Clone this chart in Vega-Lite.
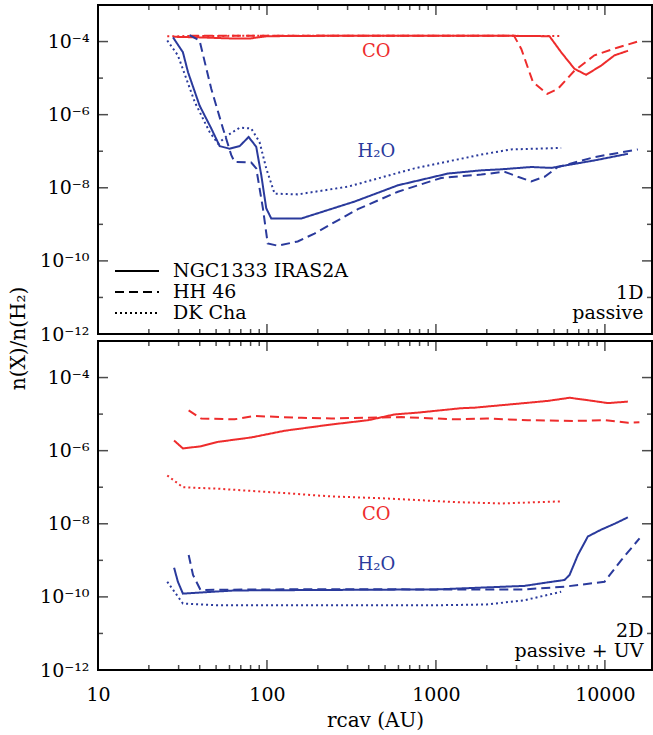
{
  "$schema": "https://vega.github.io/schema/vega-lite/v6.json",
  "autosize": {"type": "pad"},
  "padding": {"left": 7, "top": 4, "right": 2, "bottom": 0},
  "background": "white",
  "config": {
    "view": {"stroke": "black", "strokeWidth": 2},
    "axis": {
      "domain": false,
      "grid": false,
      "tickSize": 0,
      "labelFont": "DejaVu Serif",
      "labelFontSize": 19,
      "labelColor": "black",
      "labelOverlap": false,
      "labelFlush": false,
      "labelBound": false,
      "titleFont": "DejaVu Serif",
      "titleFontSize": 20,
      "titleFontWeight": "normal",
      "titleColor": "black"
    },
    "text": {"font": "DejaVu Serif"}
  },
  "datasets": {
    "xticks": [
      {"v": 10, "kind": "major"}, {"v": 20, "kind": "minor"}, {"v": 30, "kind": "minor"}, {"v": 40, "kind": "minor"},
      {"v": 50, "kind": "minor"}, {"v": 60, "kind": "minor"}, {"v": 70, "kind": "minor"}, {"v": 80, "kind": "minor"},
      {"v": 90, "kind": "minor"}, {"v": 100, "kind": "major"}, {"v": 200, "kind": "minor"}, {"v": 300, "kind": "minor"},
      {"v": 400, "kind": "minor"}, {"v": 500, "kind": "minor"}, {"v": 600, "kind": "minor"}, {"v": 700, "kind": "minor"},
      {"v": 800, "kind": "minor"}, {"v": 900, "kind": "minor"}, {"v": 1000, "kind": "major"}, {"v": 2000, "kind": "minor"},
      {"v": 3000, "kind": "minor"}, {"v": 4000, "kind": "minor"}, {"v": 5000, "kind": "minor"}, {"v": 6000, "kind": "minor"},
      {"v": 7000, "kind": "minor"}, {"v": 8000, "kind": "minor"}, {"v": 9000, "kind": "minor"}, {"v": 10000, "kind": "major"}
    ],
    "yticks": [
      {"v": 1e-12, "kind": "major"}, {"v": 1e-11, "kind": "minor"}, {"v": 1e-10, "kind": "major"},
      {"v": 1e-9, "kind": "minor"}, {"v": 1e-8, "kind": "major"}, {"v": 1e-7, "kind": "minor"},
      {"v": 1e-6, "kind": "major"}, {"v": 1e-5, "kind": "minor"}, {"v": 1e-4, "kind": "major"}
    ],
    "profiles": [
      {"panel": "1D", "species": "CO", "source": "NGC1333 IRAS2A", "r": 28, "ratio": 1.35e-4},
      {"panel": "1D", "species": "CO", "source": "NGC1333 IRAS2A", "r": 40, "ratio": 1.3e-4},
      {"panel": "1D", "species": "CO", "source": "NGC1333 IRAS2A", "r": 60, "ratio": 1.22e-4},
      {"panel": "1D", "species": "CO", "source": "NGC1333 IRAS2A", "r": 80, "ratio": 1.22e-4},
      {"panel": "1D", "species": "CO", "source": "NGC1333 IRAS2A", "r": 100, "ratio": 1.4e-4},
      {"panel": "1D", "species": "CO", "source": "NGC1333 IRAS2A", "r": 300, "ratio": 1.45e-4},
      {"panel": "1D", "species": "CO", "source": "NGC1333 IRAS2A", "r": 1000, "ratio": 1.45e-4},
      {"panel": "1D", "species": "CO", "source": "NGC1333 IRAS2A", "r": 3000, "ratio": 1.43e-4},
      {"panel": "1D", "species": "CO", "source": "NGC1333 IRAS2A", "r": 4700, "ratio": 1.4e-4},
      {"panel": "1D", "species": "CO", "source": "NGC1333 IRAS2A", "r": 5510, "ratio": 5.1e-5},
      {"panel": "1D", "species": "CO", "source": "NGC1333 IRAS2A", "r": 6600, "ratio": 1.8e-5},
      {"panel": "1D", "species": "CO", "source": "NGC1333 IRAS2A", "r": 7740, "ratio": 1.23e-5},
      {"panel": "1D", "species": "CO", "source": "NGC1333 IRAS2A", "r": 9500, "ratio": 2.2e-5},
      {"panel": "1D", "species": "CO", "source": "NGC1333 IRAS2A", "r": 11400, "ratio": 4.2e-5},
      {"panel": "1D", "species": "CO", "source": "NGC1333 IRAS2A", "r": 13700, "ratio": 5.6e-5},

      {"panel": "1D", "species": "CO", "source": "HH 46", "r": 35, "ratio": 1.45e-4},
      {"panel": "1D", "species": "CO", "source": "HH 46", "r": 100, "ratio": 1.45e-4},
      {"panel": "1D", "species": "CO", "source": "HH 46", "r": 1000, "ratio": 1.45e-4},
      {"panel": "1D", "species": "CO", "source": "HH 46", "r": 2900, "ratio": 1.43e-4},
      {"panel": "1D", "species": "CO", "source": "HH 46", "r": 3200, "ratio": 6.3e-5},
      {"panel": "1D", "species": "CO", "source": "HH 46", "r": 3750, "ratio": 7.8e-6},
      {"panel": "1D", "species": "CO", "source": "HH 46", "r": 4560, "ratio": 3.7e-6},
      {"panel": "1D", "species": "CO", "source": "HH 46", "r": 5270, "ratio": 5.1e-6},
      {"panel": "1D", "species": "CO", "source": "HH 46", "r": 6610, "ratio": 1.6e-5},
      {"panel": "1D", "species": "CO", "source": "HH 46", "r": 8670, "ratio": 4.2e-5},
      {"panel": "1D", "species": "CO", "source": "HH 46", "r": 11940, "ratio": 6.9e-5},
      {"panel": "1D", "species": "CO", "source": "HH 46", "r": 15670, "ratio": 1.0e-4},

      {"panel": "1D", "species": "CO", "source": "DK Cha", "r": 25.7, "ratio": 1.4e-4},
      {"panel": "1D", "species": "CO", "source": "DK Cha", "r": 100, "ratio": 1.45e-4},
      {"panel": "1D", "species": "CO", "source": "DK Cha", "r": 1000, "ratio": 1.45e-4},
      {"panel": "1D", "species": "CO", "source": "DK Cha", "r": 5510, "ratio": 1.42e-4},

      {"panel": "1D", "species": "H₂O", "source": "NGC1333 IRAS2A", "r": 27.8, "ratio": 1.3e-4},
      {"panel": "1D", "species": "H₂O", "source": "NGC1333 IRAS2A", "r": 31.8, "ratio": 5.1e-5},
      {"panel": "1D", "species": "H₂O", "source": "NGC1333 IRAS2A", "r": 34.1, "ratio": 1.45e-5},
      {"panel": "1D", "species": "H₂O", "source": "NGC1333 IRAS2A", "r": 39.9, "ratio": 1.78e-6},
      {"panel": "1D", "species": "H₂O", "source": "NGC1333 IRAS2A", "r": 46.8, "ratio": 4.2e-7},
      {"panel": "1D", "species": "H₂O", "source": "NGC1333 IRAS2A", "r": 52.5, "ratio": 1.38e-7},
      {"panel": "1D", "species": "H₂O", "source": "NGC1333 IRAS2A", "r": 60.1, "ratio": 1.17e-7},
      {"panel": "1D", "species": "H₂O", "source": "NGC1333 IRAS2A", "r": 68.9, "ratio": 1.38e-7},
      {"panel": "1D", "species": "H₂O", "source": "NGC1333 IRAS2A", "r": 77.9, "ratio": 2.45e-7},
      {"panel": "1D", "species": "H₂O", "source": "NGC1333 IRAS2A", "r": 86.4, "ratio": 1.32e-7},
      {"panel": "1D", "species": "H₂O", "source": "NGC1333 IRAS2A", "r": 92.5, "ratio": 2.24e-8},
      {"panel": "1D", "species": "H₂O", "source": "NGC1333 IRAS2A", "r": 99, "ratio": 2.75e-9},
      {"panel": "1D", "species": "H₂O", "source": "NGC1333 IRAS2A", "r": 106, "ratio": 1.45e-9},
      {"panel": "1D", "species": "H₂O", "source": "NGC1333 IRAS2A", "r": 160, "ratio": 1.45e-9},
      {"panel": "1D", "species": "H₂O", "source": "NGC1333 IRAS2A", "r": 330, "ratio": 4.2e-9},
      {"panel": "1D", "species": "H₂O", "source": "NGC1333 IRAS2A", "r": 596, "ratio": 1.17e-8},
      {"panel": "1D", "species": "H₂O", "source": "NGC1333 IRAS2A", "r": 1178, "ratio": 2.45e-8},
      {"panel": "1D", "species": "H₂O", "source": "NGC1333 IRAS2A", "r": 1854, "ratio": 3.0e-8},
      {"panel": "1D", "species": "H₂O", "source": "NGC1333 IRAS2A", "r": 2433, "ratio": 3.2e-8},
      {"panel": "1D", "species": "H₂O", "source": "NGC1333 IRAS2A", "r": 3664, "ratio": 3.7e-8},
      {"panel": "1D", "species": "H₂O", "source": "NGC1333 IRAS2A", "r": 4810, "ratio": 3.5e-8},
      {"panel": "1D", "species": "H₂O", "source": "NGC1333 IRAS2A", "r": 8670, "ratio": 5.6e-8},
      {"panel": "1D", "species": "H₂O", "source": "NGC1333 IRAS2A", "r": 13680, "ratio": 8.5e-8},

      {"panel": "1D", "species": "H₂O", "source": "HH 46", "r": 34.8, "ratio": 1.5e-4},
      {"panel": "1D", "species": "H₂O", "source": "HH 46", "r": 39.9, "ratio": 1.07e-4},
      {"panel": "1D", "species": "H₂O", "source": "HH 46", "r": 46.8, "ratio": 5.1e-6},
      {"panel": "1D", "species": "H₂O", "source": "HH 46", "r": 54.9, "ratio": 4.2e-7},
      {"panel": "1D", "species": "H₂O", "source": "HH 46", "r": 61.5, "ratio": 7.8e-8},
      {"panel": "1D", "species": "H₂O", "source": "HH 46", "r": 64.3, "ratio": 5.1e-8},
      {"panel": "1D", "species": "H₂O", "source": "HH 46", "r": 80.7, "ratio": 4.9e-8},
      {"panel": "1D", "species": "H₂O", "source": "HH 46", "r": 86.4, "ratio": 3.4e-8},
      {"panel": "1D", "species": "H₂O", "source": "HH 46", "r": 94.6, "ratio": 2.75e-9},
      {"panel": "1D", "species": "H₂O", "source": "HH 46", "r": 101, "ratio": 3.0e-10},
      {"panel": "1D", "species": "H₂O", "source": "HH 46", "r": 116, "ratio": 2.6e-10},
      {"panel": "1D", "species": "H₂O", "source": "HH 46", "r": 152, "ratio": 3.4e-10},
      {"panel": "1D", "species": "H₂O", "source": "HH 46", "r": 191, "ratio": 5.6e-10},
      {"panel": "1D", "species": "H₂O", "source": "HH 46", "r": 345, "ratio": 2.6e-9},
      {"panel": "1D", "species": "H₂O", "source": "HH 46", "r": 596, "ratio": 7.8e-9},
      {"panel": "1D", "species": "H₂O", "source": "HH 46", "r": 1074, "ratio": 1.86e-8},
      {"panel": "1D", "species": "H₂O", "source": "HH 46", "r": 1854, "ratio": 2.3e-8},
      {"panel": "1D", "species": "H₂O", "source": "HH 46", "r": 2546, "ratio": 2.75e-8},
      {"panel": "1D", "species": "H₂O", "source": "HH 46", "r": 3055, "ratio": 2.0e-8},
      {"panel": "1D", "species": "H₂O", "source": "HH 46", "r": 3664, "ratio": 1.5e-8},
      {"panel": "1D", "species": "H₂O", "source": "HH 46", "r": 4395, "ratio": 2.0e-8},
      {"panel": "1D", "species": "H₂O", "source": "HH 46", "r": 5272, "ratio": 3.7e-8},
      {"panel": "1D", "species": "H₂O", "source": "HH 46", "r": 8670, "ratio": 6.9e-8},
      {"panel": "1D", "species": "H₂O", "source": "HH 46", "r": 15670, "ratio": 1.12e-7},

      {"panel": "1D", "species": "H₂O", "source": "DK Cha", "r": 25.7, "ratio": 1.07e-4},
      {"panel": "1D", "species": "H₂O", "source": "DK Cha", "r": 29.7, "ratio": 4.2e-5},
      {"panel": "1D", "species": "H₂O", "source": "DK Cha", "r": 37.4, "ratio": 2.2e-6},
      {"panel": "1D", "species": "H₂O", "source": "DK Cha", "r": 45.7, "ratio": 3.4e-7},
      {"panel": "1D", "species": "H₂O", "source": "DK Cha", "r": 51.3, "ratio": 1.62e-7},
      {"panel": "1D", "species": "H₂O", "source": "DK Cha", "r": 58.7, "ratio": 2.75e-7},
      {"panel": "1D", "species": "H₂O", "source": "DK Cha", "r": 68.9, "ratio": 4.4e-7},
      {"panel": "1D", "species": "H₂O", "source": "DK Cha", "r": 80.7, "ratio": 4.2e-7},
      {"panel": "1D", "species": "H₂O", "source": "DK Cha", "r": 90.4, "ratio": 1.78e-7},
      {"panel": "1D", "species": "H₂O", "source": "DK Cha", "r": 99, "ratio": 3.4e-8},
      {"panel": "1D", "species": "H₂O", "source": "DK Cha", "r": 111, "ratio": 6.9e-9},
      {"panel": "1D", "species": "H₂O", "source": "DK Cha", "r": 152, "ratio": 6.6e-9},
      {"panel": "1D", "species": "H₂O", "source": "DK Cha", "r": 301, "ratio": 1.07e-8},
      {"panel": "1D", "species": "H₂O", "source": "DK Cha", "r": 747, "ratio": 3.4e-8},
      {"panel": "1D", "species": "H₂O", "source": "DK Cha", "r": 1854, "ratio": 8.1e-8},
      {"panel": "1D", "species": "H₂O", "source": "DK Cha", "r": 2786, "ratio": 1.12e-7},
      {"panel": "1D", "species": "H₂O", "source": "DK Cha", "r": 5510, "ratio": 1.23e-7},

      {"panel": "2D", "species": "CO", "source": "NGC1333 IRAS2A", "r": 28.2, "ratio": 1.9e-6},
      {"panel": "2D", "species": "CO", "source": "NGC1333 IRAS2A", "r": 31.8, "ratio": 1.15e-6},
      {"panel": "2D", "species": "CO", "source": "NGC1333 IRAS2A", "r": 40.8, "ratio": 1.32e-6},
      {"panel": "2D", "species": "CO", "source": "NGC1333 IRAS2A", "r": 51.3, "ratio": 1.74e-6},
      {"panel": "2D", "species": "CO", "source": "NGC1333 IRAS2A", "r": 80.7, "ratio": 2.3e-6},
      {"panel": "2D", "species": "CO", "source": "NGC1333 IRAS2A", "r": 127, "ratio": 3.5e-6},
      {"panel": "2D", "species": "CO", "source": "NGC1333 IRAS2A", "r": 240, "ratio": 5.2e-6},
      {"panel": "2D", "species": "CO", "source": "NGC1333 IRAS2A", "r": 396, "ratio": 6.8e-6},
      {"panel": "2D", "species": "CO", "source": "NGC1333 IRAS2A", "r": 569, "ratio": 9.8e-6},
      {"panel": "2D", "species": "CO", "source": "NGC1333 IRAS2A", "r": 782, "ratio": 1.1e-5},
      {"panel": "2D", "species": "CO", "source": "NGC1333 IRAS2A", "r": 1413, "ratio": 1.45e-5},
      {"panel": "2D", "species": "CO", "source": "NGC1333 IRAS2A", "r": 1690, "ratio": 1.5e-5},
      {"panel": "2D", "species": "CO", "source": "NGC1333 IRAS2A", "r": 3340, "ratio": 2.0e-5},
      {"panel": "2D", "species": "CO", "source": "NGC1333 IRAS2A", "r": 4600, "ratio": 2.3e-5},
      {"panel": "2D", "species": "CO", "source": "NGC1333 IRAS2A", "r": 6180, "ratio": 2.8e-5},
      {"panel": "2D", "species": "CO", "source": "NGC1333 IRAS2A", "r": 7930, "ratio": 2.4e-5},
      {"panel": "2D", "species": "CO", "source": "NGC1333 IRAS2A", "r": 10420, "ratio": 2.0e-5},
      {"panel": "2D", "species": "CO", "source": "NGC1333 IRAS2A", "r": 13680, "ratio": 2.2e-5},

      {"panel": "2D", "species": "CO", "source": "HH 46", "r": 34.4, "ratio": 1.26e-5},
      {"panel": "2D", "species": "CO", "source": "HH 46", "r": 40.8, "ratio": 7.6e-6},
      {"panel": "2D", "species": "CO", "source": "HH 46", "r": 64.3, "ratio": 7.2e-6},
      {"panel": "2D", "species": "CO", "source": "HH 46", "r": 84.5, "ratio": 8.9e-6},
      {"panel": "2D", "species": "CO", "source": "HH 46", "r": 160, "ratio": 7.9e-6},
      {"panel": "2D", "species": "CO", "source": "HH 46", "r": 240, "ratio": 7.6e-6},
      {"panel": "2D", "species": "CO", "source": "HH 46", "r": 624, "ratio": 8.3e-6},
      {"panel": "2D", "species": "CO", "source": "HH 46", "r": 1290, "ratio": 7.2e-6},
      {"panel": "2D", "species": "CO", "source": "HH 46", "r": 2000, "ratio": 7.6e-6},
      {"panel": "2D", "species": "CO", "source": "HH 46", "r": 3500, "ratio": 6.8e-6},
      {"panel": "2D", "species": "CO", "source": "HH 46", "r": 6610, "ratio": 6.5e-6},
      {"panel": "2D", "species": "CO", "source": "HH 46", "r": 10000, "ratio": 6.8e-6},
      {"panel": "2D", "species": "CO", "source": "HH 46", "r": 13700, "ratio": 5.8e-6},
      {"panel": "2D", "species": "CO", "source": "HH 46", "r": 16000, "ratio": 6.0e-6},

      {"panel": "2D", "species": "CO", "source": "DK Cha", "r": 25.7, "ratio": 2.1e-7},
      {"panel": "2D", "species": "CO", "source": "DK Cha", "r": 31.8, "ratio": 1.0e-7},
      {"panel": "2D", "species": "CO", "source": "DK Cha", "r": 51.3, "ratio": 9.1e-8},
      {"panel": "2D", "species": "CO", "source": "DK Cha", "r": 127, "ratio": 6.9e-8},
      {"panel": "2D", "species": "CO", "source": "DK Cha", "r": 240, "ratio": 5.6e-8},
      {"panel": "2D", "species": "CO", "source": "DK Cha", "r": 474, "ratio": 5.0e-8},
      {"panel": "2D", "species": "CO", "source": "DK Cha", "r": 1350, "ratio": 3.9e-8},
      {"panel": "2D", "species": "CO", "source": "DK Cha", "r": 2430, "ratio": 3.6e-8},
      {"panel": "2D", "species": "CO", "source": "DK Cha", "r": 5510, "ratio": 4.1e-8},

      {"panel": "2D", "species": "H₂O", "source": "NGC1333 IRAS2A", "r": 28.2, "ratio": 6.3e-10},
      {"panel": "2D", "species": "H₂O", "source": "NGC1333 IRAS2A", "r": 29.7, "ratio": 2.6e-10},
      {"panel": "2D", "species": "H₂O", "source": "NGC1333 IRAS2A", "r": 31.8, "ratio": 1.23e-10},
      {"panel": "2D", "species": "H₂O", "source": "NGC1333 IRAS2A", "r": 40.8, "ratio": 1.32e-10},
      {"panel": "2D", "species": "H₂O", "source": "NGC1333 IRAS2A", "r": 64.3, "ratio": 1.5e-10},
      {"panel": "2D", "species": "H₂O", "source": "NGC1333 IRAS2A", "r": 240, "ratio": 1.55e-10},
      {"panel": "2D", "species": "H₂O", "source": "NGC1333 IRAS2A", "r": 1000, "ratio": 1.6e-10},
      {"panel": "2D", "species": "H₂O", "source": "NGC1333 IRAS2A", "r": 3340, "ratio": 2.0e-10},
      {"panel": "2D", "species": "H₂O", "source": "NGC1333 IRAS2A", "r": 4600, "ratio": 2.5e-10},
      {"panel": "2D", "species": "H₂O", "source": "NGC1333 IRAS2A", "r": 5770, "ratio": 2.9e-10},
      {"panel": "2D", "species": "H₂O", "source": "NGC1333 IRAS2A", "r": 6180, "ratio": 4.0e-10},
      {"panel": "2D", "species": "H₂O", "source": "NGC1333 IRAS2A", "r": 6920, "ratio": 1.4e-9},
      {"panel": "2D", "species": "H₂O", "source": "NGC1333 IRAS2A", "r": 7930, "ratio": 4.5e-9},
      {"panel": "2D", "species": "H₂O", "source": "NGC1333 IRAS2A", "r": 9500, "ratio": 6.9e-9},
      {"panel": "2D", "species": "H₂O", "source": "NGC1333 IRAS2A", "r": 11400, "ratio": 1.0e-8},
      {"panel": "2D", "species": "H₂O", "source": "NGC1333 IRAS2A", "r": 13680, "ratio": 1.5e-8},

      {"panel": "2D", "species": "H₂O", "source": "HH 46", "r": 34.4, "ratio": 1.4e-9},
      {"panel": "2D", "species": "H₂O", "source": "HH 46", "r": 36.5, "ratio": 4.0e-10},
      {"panel": "2D", "species": "H₂O", "source": "HH 46", "r": 40.4, "ratio": 1.55e-10},
      {"panel": "2D", "species": "H₂O", "source": "HH 46", "r": 100, "ratio": 1.6e-10},
      {"panel": "2D", "species": "H₂O", "source": "HH 46", "r": 240, "ratio": 1.62e-10},
      {"panel": "2D", "species": "H₂O", "source": "HH 46", "r": 1000, "ratio": 1.6e-10},
      {"panel": "2D", "species": "H₂O", "source": "HH 46", "r": 3340, "ratio": 1.6e-10},
      {"panel": "2D", "species": "H₂O", "source": "HH 46", "r": 5770, "ratio": 1.9e-10},
      {"panel": "2D", "species": "H₂O", "source": "HH 46", "r": 9950, "ratio": 2.6e-10},
      {"panel": "2D", "species": "H₂O", "source": "HH 46", "r": 12470, "ratio": 1.0e-9},
      {"panel": "2D", "species": "H₂O", "source": "HH 46", "r": 16030, "ratio": 4.0e-9},

      {"panel": "2D", "species": "H₂O", "source": "DK Cha", "r": 25.7, "ratio": 2.6e-10},
      {"panel": "2D", "species": "H₂O", "source": "DK Cha", "r": 31.8, "ratio": 6.6e-11},
      {"panel": "2D", "species": "H₂O", "source": "DK Cha", "r": 51.3, "ratio": 5.9e-11},
      {"panel": "2D", "species": "H₂O", "source": "DK Cha", "r": 240, "ratio": 5.9e-11},
      {"panel": "2D", "species": "H₂O", "source": "DK Cha", "r": 1000, "ratio": 5.9e-11},
      {"panel": "2D", "species": "H₂O", "source": "DK Cha", "r": 2000, "ratio": 6.2e-11},
      {"panel": "2D", "species": "H₂O", "source": "DK Cha", "r": 3340, "ratio": 8.1e-11},
      {"panel": "2D", "species": "H₂O", "source": "DK Cha", "r": 5510, "ratio": 1.38e-10}
    ],
    "labels": [
      {"panel": "1D", "species": "CO", "text": "CO", "r": 444, "ratio": 5.1e-5},
      {"panel": "1D", "species": "H₂O", "text": "H₂O", "r": 444, "ratio": 9.5e-8},
      {"panel": "2D", "species": "CO", "text": "CO", "r": 444, "ratio": 1.7e-8},
      {"panel": "2D", "species": "H₂O", "text": "H₂O", "r": 444, "ratio": 7.4e-10}
    ]
  },
  "spacing": 7,
  "bounds": "flush",
  "resolve": {"legend": {"strokeDash": "independent"}},
  "vconcat": [
    {
      "width": 554,
      "height": 329,
      "layer": [
        {
          "data": {"name": "profiles"},
          "transform": [{"filter": "datum.panel === '1D'"}],
          "mark": {"type": "line", "strokeWidth": 2, "clip": true},
          "encoding": {
            "x": {
              "field": "r", "type": "quantitative",
              "scale": {"type": "log", "domain": [10, 19000], "nice": false},
              "axis": {"orient": "bottom", "title": null, "labels": false, "values": [10, 100, 1000, 10000]}
            },
            "y": {
              "field": "ratio", "type": "quantitative",
              "scale": {"type": "log", "domain": [1e-12, 1e-3], "nice": false},
              "axis": {
                "orient": "left",
                "title": "n(X)/n(H₂)",
                "titleX": -70,
                "titleY": 333,
                "values": [1e-12, 1e-10, 1e-8, 1e-6, 1e-4],
                "labelPadding": 9,
                "labelExpr": "round(log(datum.value)/LN10) == -4 ? '10⁻⁴' : round(log(datum.value)/LN10) == -6 ? '10⁻⁶' : round(log(datum.value)/LN10) == -8 ? '10⁻⁸' : round(log(datum.value)/LN10) == -10 ? '10⁻¹⁰' : '10⁻¹²'"
              }
            },
            "color": {
              "field": "species", "type": "nominal",
              "scale": {"domain": ["CO", "H₂O"], "range": ["#ee2c2c", "#2a3a9c"]},
              "legend": null
            },
            "strokeDash": {
              "field": "source", "type": "nominal",
              "scale": {"domain": ["NGC1333 IRAS2A", "HH 46", "DK Cha"], "range": [[1, 0], [9, 5], [2, 3]]},
              "legend": {
                "title": null,
                "orient": "none",
                "legendX": 18,
                "legendY": 255,
                "symbolType": "M-1.2,0H3.2",
                "symbolStrokeColor": "black",
                "symbolStrokeWidth": 2,
                "symbolSize": 400,
                "labelFont": "DejaVu Serif",
                "labelFontSize": 19,
                "labelColor": "black",
                "labelOffset": 35,
                "rowPadding": 0,
                "labelLimit": 400
              }
            }
          }
        },
        {
          "data": {"name": "labels"},
          "transform": [{"filter": "datum.panel === '1D'"}],
          "mark": {"type": "text", "fontSize": 18, "baseline": "middle", "align": "center"},
          "encoding": {
            "x": {"field": "r", "type": "quantitative", "axis": null},
            "y": {"field": "ratio", "type": "quantitative", "axis": null},
            "text": {"field": "text"},
            "color": {"field": "species", "type": "nominal", "legend": null}
          }
        },
        {
          "data": {"values": [{}]},
          "mark": {"type": "text", "align": "right", "baseline": "alphabetic", "fontSize": 19, "lineHeight": 20, "color": "black"},
          "encoding": {
            "x": {"datum": 16900, "type": "quantitative", "axis": null},
            "y": {"datum": 8.8e-12, "type": "quantitative", "axis": null},
            "text": {"value": ["1D", "passive"]}
          }
        },
        {
          "data": {"name": "xticks"},
          "mark": {"type": "tick", "orient": "vertical", "thickness": 1.5, "color": "black", "clip": true},
          "encoding": {
            "x": {"field": "v", "type": "quantitative", "axis": null},
            "y": {"datum": 1e-12, "type": "quantitative", "axis": null},
            "size": {"field": "kind", "type": "nominal", "scale": {"domain": ["major", "minor"], "range": [20, 10]}, "legend": null}
          }
        },
        {
          "data": {"name": "xticks"},
          "mark": {"type": "tick", "orient": "vertical", "thickness": 1.5, "color": "black", "clip": true},
          "encoding": {
            "x": {"field": "v", "type": "quantitative", "axis": null},
            "y": {"datum": 1e-3, "type": "quantitative", "axis": null},
            "size": {"field": "kind", "type": "nominal", "legend": null}
          }
        },
        {
          "data": {"name": "yticks"},
          "mark": {"type": "tick", "orient": "horizontal", "thickness": 1.5, "color": "black", "clip": true},
          "encoding": {
            "x": {"datum": 10, "type": "quantitative", "axis": null},
            "y": {"field": "v", "type": "quantitative", "axis": null},
            "size": {"field": "kind", "type": "nominal", "legend": null}
          }
        },
        {
          "data": {"name": "yticks"},
          "mark": {"type": "tick", "orient": "horizontal", "thickness": 1.5, "color": "black", "clip": true},
          "encoding": {
            "x": {"datum": 19000, "type": "quantitative", "axis": null},
            "y": {"field": "v", "type": "quantitative", "axis": null},
            "size": {"field": "kind", "type": "nominal", "legend": null}
          }
        }
      ],
      "resolve": {"axis": {"x": "independent", "y": "independent"}}
    },
    {
      "width": 554,
      "height": 329,
      "layer": [
        {
          "data": {"name": "profiles"},
          "transform": [{"filter": "datum.panel === '2D'"}],
          "mark": {"type": "line", "strokeWidth": 2, "clip": true},
          "encoding": {
            "x": {
              "field": "r", "type": "quantitative",
              "scale": {"type": "log", "domain": [10, 19000], "nice": false},
              "axis": {
                "orient": "bottom",
                "title": "rcav (AU)",
                "titlePadding": 6,
                "values": [10, 100, 1000, 10000],
                "format": "d",
                "labelPadding": 15
              }
            },
            "y": {
              "field": "ratio", "type": "quantitative",
              "scale": {"type": "log", "domain": [1e-12, 1e-3], "nice": false},
              "axis": {
                "orient": "left",
                "title": null,
                "values": [1e-12, 1e-10, 1e-8, 1e-6, 1e-4],
                "labelPadding": 9,
                "labelExpr": "round(log(datum.value)/LN10) == -4 ? '10⁻⁴' : round(log(datum.value)/LN10) == -6 ? '10⁻⁶' : round(log(datum.value)/LN10) == -8 ? '10⁻⁸' : round(log(datum.value)/LN10) == -10 ? '10⁻¹⁰' : '10⁻¹²'"
              }
            },
            "color": {
              "field": "species", "type": "nominal",
              "scale": {"domain": ["CO", "H₂O"], "range": ["#ee2c2c", "#2a3a9c"]},
              "legend": null
            },
            "strokeDash": {
              "field": "source", "type": "nominal",
              "scale": {"domain": ["NGC1333 IRAS2A", "HH 46", "DK Cha"], "range": [[1, 0], [9, 5], [2, 3]]},
              "legend": null
            }
          }
        },
        {
          "data": {"name": "labels"},
          "transform": [{"filter": "datum.panel === '2D'"}],
          "mark": {"type": "text", "fontSize": 18, "baseline": "middle", "align": "center"},
          "encoding": {
            "x": {"field": "r", "type": "quantitative", "axis": null},
            "y": {"field": "ratio", "type": "quantitative", "axis": null},
            "text": {"field": "text"},
            "color": {"field": "species", "type": "nominal", "legend": null}
          }
        },
        {
          "data": {"values": [{}]},
          "mark": {"type": "text", "align": "right", "baseline": "alphabetic", "fontSize": 19, "lineHeight": 20, "color": "black"},
          "encoding": {
            "x": {"datum": 16900, "type": "quantitative", "axis": null},
            "y": {"datum": 8.0e-12, "type": "quantitative", "axis": null},
            "text": {"value": ["2D", "passive + UV"]}
          }
        },
        {
          "data": {"name": "xticks"},
          "mark": {"type": "tick", "orient": "vertical", "thickness": 1.5, "color": "black", "clip": true},
          "encoding": {
            "x": {"field": "v", "type": "quantitative", "axis": null},
            "y": {"datum": 1e-12, "type": "quantitative", "axis": null},
            "size": {"field": "kind", "type": "nominal", "scale": {"domain": ["major", "minor"], "range": [20, 10]}, "legend": null}
          }
        },
        {
          "data": {"name": "xticks"},
          "mark": {"type": "tick", "orient": "vertical", "thickness": 1.5, "color": "black", "clip": true},
          "encoding": {
            "x": {"field": "v", "type": "quantitative", "axis": null},
            "y": {"datum": 1e-3, "type": "quantitative", "axis": null},
            "size": {"field": "kind", "type": "nominal", "legend": null}
          }
        },
        {
          "data": {"name": "yticks"},
          "mark": {"type": "tick", "orient": "horizontal", "thickness": 1.5, "color": "black", "clip": true},
          "encoding": {
            "x": {"datum": 10, "type": "quantitative", "axis": null},
            "y": {"field": "v", "type": "quantitative", "axis": null},
            "size": {"field": "kind", "type": "nominal", "legend": null}
          }
        },
        {
          "data": {"name": "yticks"},
          "mark": {"type": "tick", "orient": "horizontal", "thickness": 1.5, "color": "black", "clip": true},
          "encoding": {
            "x": {"datum": 19000, "type": "quantitative", "axis": null},
            "y": {"field": "v", "type": "quantitative", "axis": null},
            "size": {"field": "kind", "type": "nominal", "legend": null}
          }
        }
      ],
      "resolve": {"axis": {"x": "independent", "y": "independent"}}
    }
  ]
}
